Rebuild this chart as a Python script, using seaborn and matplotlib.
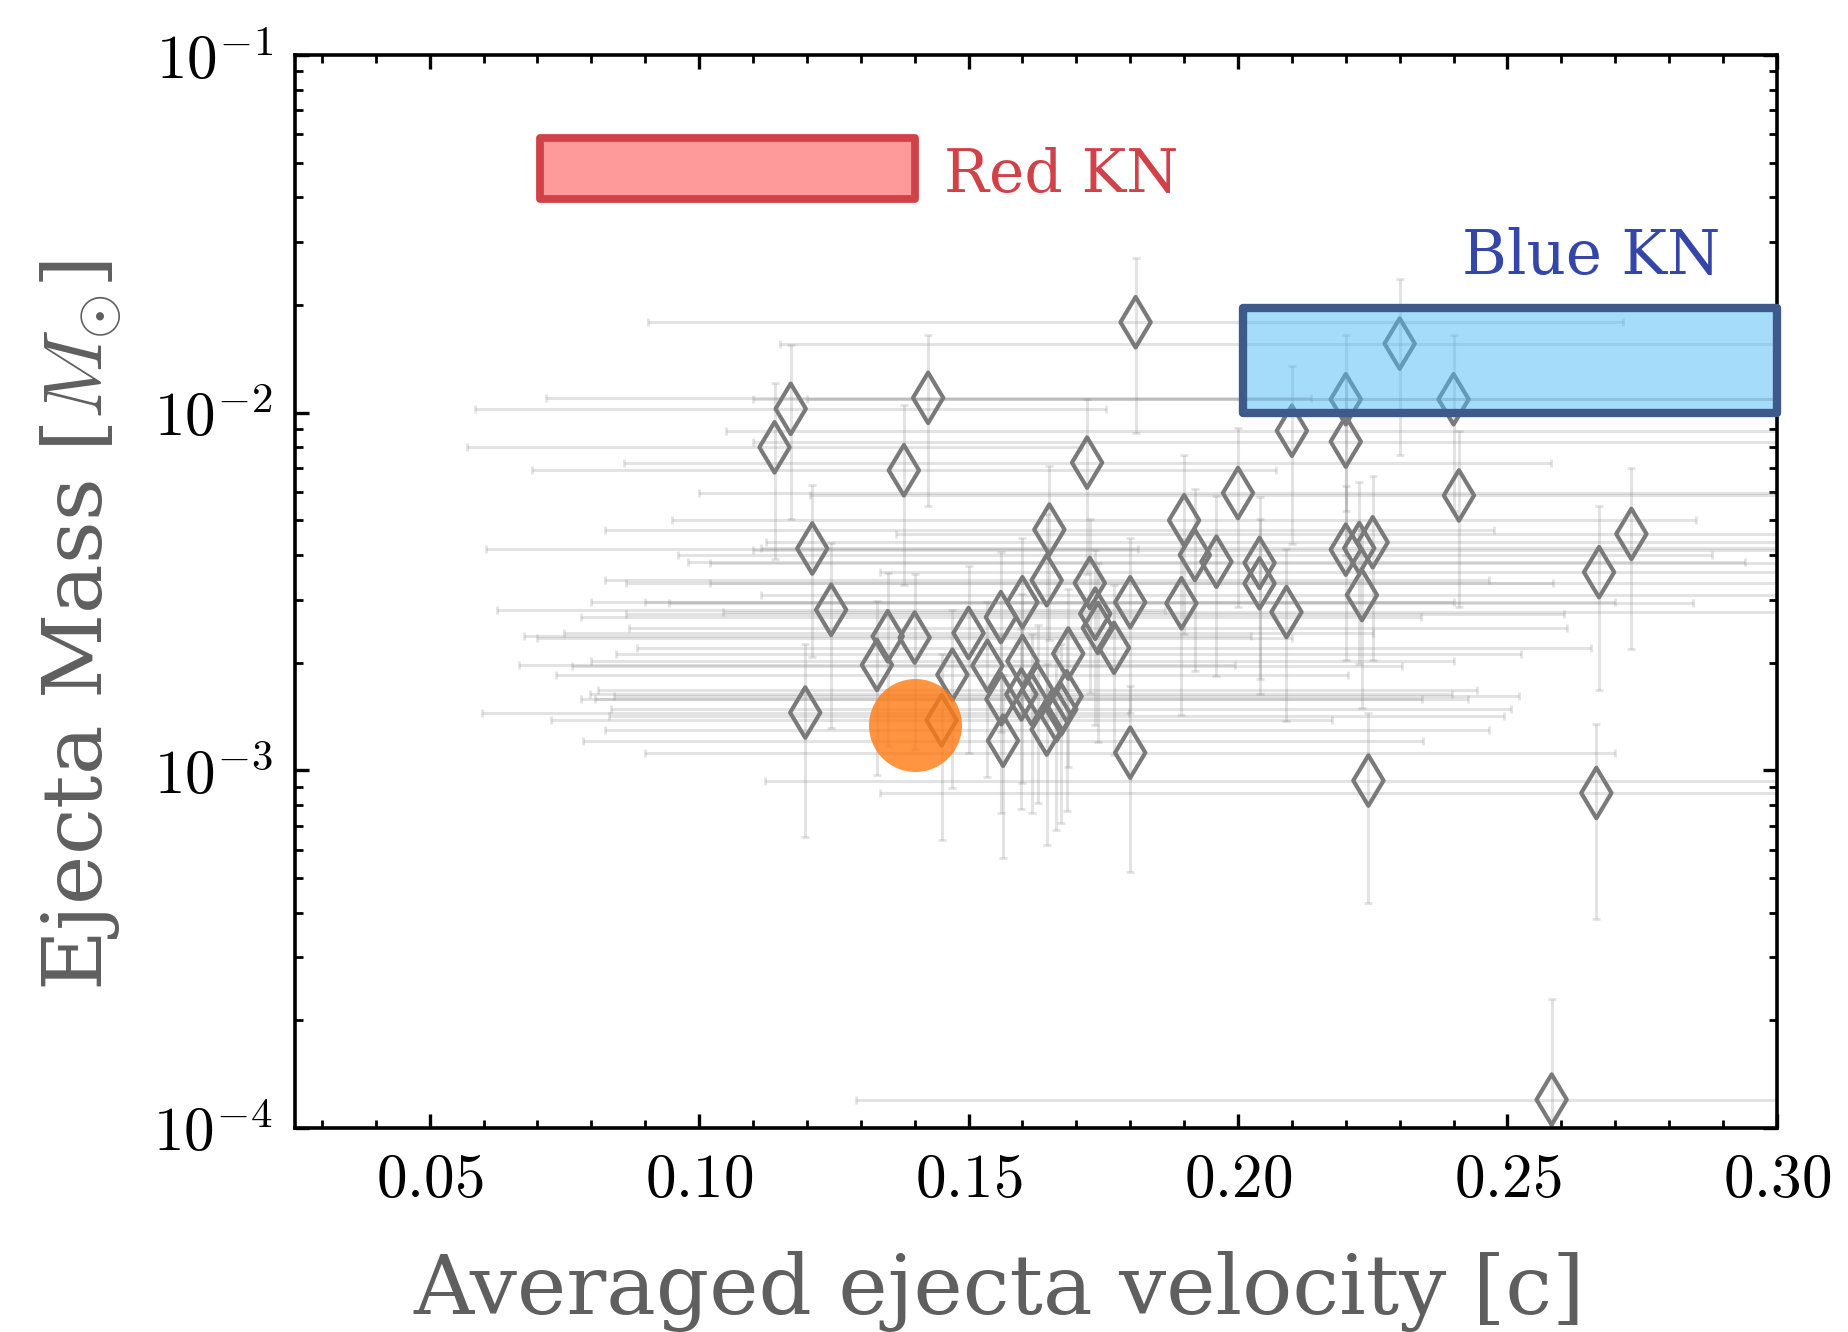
import matplotlib
matplotlib.use("Agg")
import math
import matplotlib.pyplot as plt
from matplotlib.patches import Rectangle
from matplotlib.ticker import FixedLocator, MultipleLocator, LogLocator, FuncFormatter
import seaborn as sns
import pandas as pd

# kilonova sample: averaged ejecta velocity [c] and ejecta mass [Msun]
vel = [0.114, 0.117, 0.1425, 0.138, 0.181, 0.230, 0.220, 0.240, 0.210, 0.220,
       0.172, 0.200, 0.241, 0.121, 0.165, 0.190, 0.192, 0.196, 0.204, 0.204,
       0.220, 0.2225, 0.225, 0.223, 0.209, 0.273, 0.267, 0.1245, 0.1645, 0.160,
       0.1725, 0.1735, 0.174, 0.177, 0.180, 0.1895, 0.135, 0.140, 0.133, 0.150,
       0.156, 0.1535, 0.147, 0.160, 0.1685, 0.1598, 0.1617, 0.1628, 0.1561, 0.1682,
       0.1645, 0.1663, 0.1672, 0.1197, 0.145, 0.1564, 0.180, 0.2242, 0.2665, 0.2582]
mass = [0.0080, 0.01025, 0.0110, 0.0069, 0.0179, 0.0156, 0.0109, 0.0109, 0.0089, 0.0083,
        0.00725, 0.00596, 0.00587, 0.00417, 0.00471, 0.0050, 0.0040, 0.00383, 0.0038, 0.00333,
        0.00414, 0.00418, 0.00434, 0.00309, 0.00277, 0.00458, 0.00358, 0.00281, 0.0034, 0.00295,
        0.00334, 0.00274, 0.0025, 0.0022, 0.00295, 0.00293, 0.00237, 0.00235, 0.00197, 0.00242,
        0.00268, 0.00196, 0.00185, 0.00202, 0.00212, 0.00163, 0.00158, 0.00168, 0.00158, 0.00161,
        0.0013, 0.00142, 0.00148, 0.00145, 0.00138, 0.00121, 0.00112, 0.000936, 0.000864, 0.00012]
vel_err = [0.057, 0.0585, 0.071, 0.069, 0.0905, 0.115, 0.110, 0.120, 0.105, 0.110,
           0.086, 0.100, 0.1205, 0.0605, 0.0825, 0.095, 0.096, 0.098, 0.102, 0.102,
           0.110, 0.111, 0.1125, 0.1115, 0.1045, 0.1365, 0.1335, 0.062, 0.082, 0.080,
           0.086, 0.087, 0.087, 0.0885, 0.090, 0.095, 0.0675, 0.070, 0.0665, 0.075,
           0.078, 0.077, 0.0735, 0.080, 0.084, 0.080, 0.081, 0.0815, 0.078, 0.084,
           0.082, 0.083, 0.0835, 0.060, 0.0725, 0.078, 0.090, 0.112, 0.133, 0.129]
mass_err = [0.0041, 0.0052, 0.0055, 0.0036, 0.0091, 0.0080, 0.0056, 0.0056, 0.0046, 0.0043,
            0.0037, 0.0031, 0.0030, 0.0021, 0.0024, 0.0026, 0.0021, 0.0020, 0.0020, 0.0017,
            0.0021, 0.0022, 0.0023, 0.0016, 0.0014, 0.0024, 0.0019, 0.0015, 0.0018, 0.0015,
            0.0017, 0.0014, 0.0013, 0.0011, 0.0015, 0.0015, 0.0012, 0.0012, 0.0010, 0.0013,
            0.0014, 0.0010, 0.00096, 0.0011, 0.0011, 0.00085, 0.00082, 0.00087, 0.00082, 0.00084,
            0.00068, 0.00074, 0.00077, 0.00080, 0.00074, 0.00064, 0.00060, 0.00051, 0.00048, 0.00011]

# highlighted event
event_vel = [0.14]
event_mass = [0.00134]

# kilonova component regions: (v_min, v_max, m_min, m_max)
red_kn = [0.0705, 0.14, 0.0397, 0.0585]
blue_kn = [0.201, 0.30, 0.01, 0.0196]

xticks = [0.05, 0.10, 0.15, 0.20, 0.25, 0.30]
yticks = [1e-4, 1e-3, 1e-2, 1e-1]

df = pd.DataFrame({'vel': vel, 'mass': mass})
df_event = pd.DataFrame({'vel': event_vel, 'mass': event_mass})

sns.set_style('ticks')
plt.rcParams['font.family'] = ['DejaVu Serif']
plt.rcParams['mathtext.fontset'] = 'cm'

fig = plt.figure(figsize=(9.245, 6.66), dpi=200)
ax = fig.add_axes([0.1595, 0.1532, 0.8015, 0.8055])

# Fehlerbalken
ax.errorbar(vel, mass, xerr=vel_err, yerr=mass_err, fmt='none',
            ecolor='gray', alpha=0.22, elinewidth=1.1, capsize=1.5, capthick=1.0, zorder=1)

sns.scatterplot(x='vel', y='mass', data=df, marker='d', s=165,
                facecolor='none', edgecolor='#7a7a7a', linewidth=1.5, zorder=2, ax=ax)

sns.scatterplot(x='vel', y='mass', data=df_event, marker='o', s=1120,
                color='#ff7a12', alpha=0.8, linewidth=0, zorder=3, ax=ax)

ax.add_patch(Rectangle((red_kn[0], red_kn[2]), red_kn[1] - red_kn[0], red_kn[3] - red_kn[2],
                       facecolor='#ff9a9a', edgecolor='#d14248', linewidth=2.8,
                       joinstyle='round', zorder=4))
ax.add_patch(Rectangle((blue_kn[0], blue_kn[2]), blue_kn[1] - blue_kn[0], blue_kn[3] - blue_kn[2],
                       facecolor=(0.30, 0.73, 0.96, 0.5), edgecolor='#3d5a8a', linewidth=3.0,
                       joinstyle='round', zorder=4, clip_on=False))

ax.text(0.1455, 0.0462, 'Red KN', color='#d14248', fontsize=21.5, va='center', ha='left')
ax.text(0.2415, 0.0272, 'Blue KN', color='#3446a8', fontsize=22, va='center', ha='left')

ax.set_yscale('log')
ax.set_xlim(0.025, 0.30)
ax.set_ylim(1e-4, 1e-1)

ax.xaxis.set_major_locator(FixedLocator(xticks))
ax.xaxis.set_minor_locator(MultipleLocator(0.01))
ax.xaxis.set_major_formatter(FuncFormatter(lambda v, p: r'$%.2f$' % v))
ax.yaxis.set_major_locator(FixedLocator(yticks))
ax.yaxis.set_minor_locator(LogLocator(base=10, subs=range(2, 10)))
ax.yaxis.set_major_formatter(FuncFormatter(lambda v, p: r'$10^{%d}$' % round(math.log10(v))))

ax.tick_params(which='both', direction='in', top=True, right=True, colors='black', labelsize=22)
ax.tick_params(which='major', length=5, width=1.2, pad=8)
ax.tick_params(which='minor', length=2.8, width=1.0)
for s in ax.spines.values():
    s.set_linewidth(1.3)
    s.set_color('black')

ax.set_xlabel('Averaged ejecta velocity [c]', fontsize=30, color='#5f5f5f')
ax.set_ylabel(r'Ejecta Mass [$M_{\odot}$]', fontsize=30, color='#5f5f5f')
ax.xaxis.set_label_coords(0.475, -0.115)
ax.yaxis.set_label_coords(-0.115, 0.468)

fig.savefig('out.png', dpi=200)
